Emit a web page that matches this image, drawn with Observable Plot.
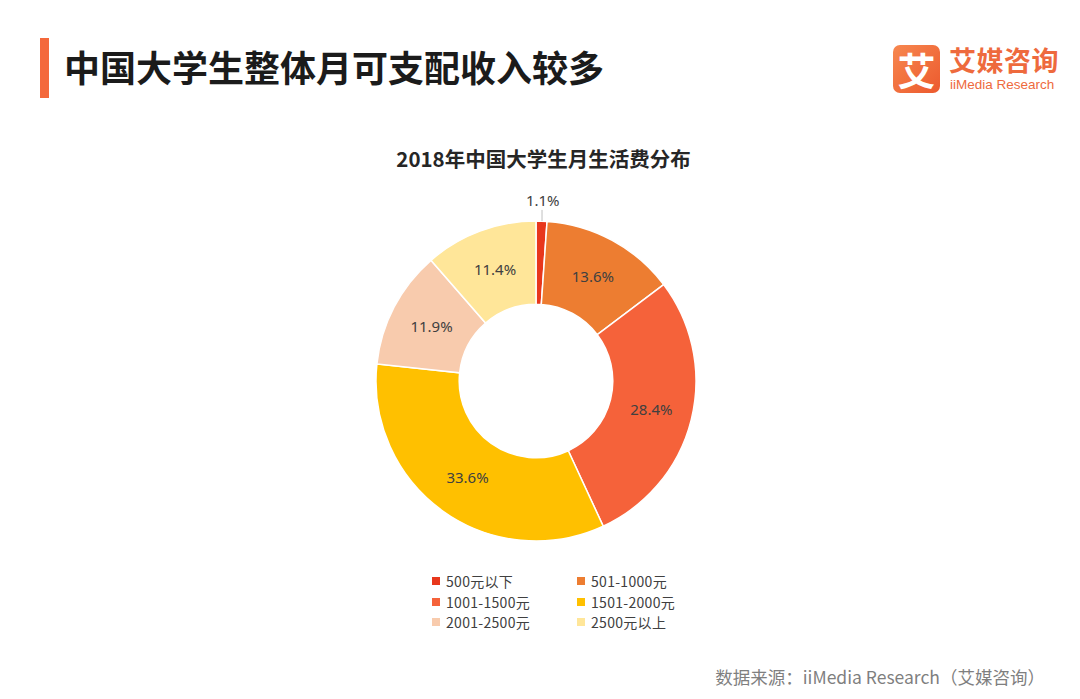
<!DOCTYPE html>
<html>
<head>
<meta charset="utf-8">
<script src="https://cdn.jsdelivr.net/npm/d3@7"></script>
<script src="https://cdn.jsdelivr.net/npm/@observablehq/plot@0.6"></script>
<style>
  html, body { margin: 0; padding: 0; }
  body { width: 1080px; height: 699px; background: #fff; position: relative; overflow: hidden;
         font-family: "Noto Sans CJK SC", "Noto Sans", sans-serif; }
  #bar { position: absolute; left: 40px; top: 38px; width: 9px; height: 60px; background: #f4683b; }
  #title { position: absolute; left: 64px; top: 43px; font-size: 36px; line-height: 46px; font-weight: 700; color: #1b1b1b; white-space: nowrap; }
  #logo-box { position: absolute; left: 893px; top: 45px; width: 47px; height: 48px; border-radius: 7px;
              background: linear-gradient(135deg, #f7874f, #ec5a2e); color: #fff; font-size: 38px; font-weight: 700;
              line-height: 48px; text-align: center; }
  #logo-cn { position: absolute; left: 949px; top: 43px; font-size: 27px; line-height: 34px; font-weight: 700; color: #ee6a3d; letter-spacing: 0.5px; white-space: nowrap; }
  #logo-en { position: absolute; left: 950px; top: 76px; font-family: "Liberation Sans", Arial, sans-serif; font-size: 13.5px; line-height: 17px; color: #ee6a3d; white-space: nowrap; }
  #subtitle { position: absolute; left: 0; width: 1087px; text-align: center; top: 145px; font-size: 20.5px; line-height: 26px; font-weight: 700; color: #262626; }
  #chart { position: absolute; left: 0; top: 180px; width: 1080px; height: 400px; }
  #legend { position: absolute; left: 432px; top: 571px; display: grid; grid-template-columns: 145px 140px; row-gap: 0px; }
  .item { display: flex; align-items: center; font-size: 14px; line-height: 20.5px; height: 20.5px; color: #404040; white-space: nowrap; letter-spacing: 0.3px; }
  .sw { width: 8px; height: 8px; margin-right: 6px; flex: none; }
  #source { position: absolute; right: 35px; top: 664px; font-size: 17.5px; line-height: 26px; color: #7f7f7f; white-space: nowrap; }
</style>
</head>
<body>
<div id="bar"></div>
<div id="title">中国大学生整体月可支配收入较多</div>
<div id="logo-box">艾</div>
<div id="logo-cn">艾媒咨询</div>
<div id="logo-en">iiMedia Research</div>
<div id="subtitle">2018年中国大学生月生活费分布</div>
<div id="chart"></div>
<div id="legend"></div>
<div id="source">数据来源：iiMedia Research（艾媒咨询）</div>
<script>
// ---- data ----
const categories = ["500元以下", "501-1000元", "1001-1500元", "1501-2000元", "2001-2500元", "2500元以上"];
const shares = [1.1, 13.6, 28.4, 33.6, 11.9, 11.4];
const colors = ["#e8371c", "#ed7d31", "#f5623a", "#ffc000", "#f8cbad", "#ffe699"];

const data = categories.map((c, i) => ({category: c, share: shares[i]}));

// pie geometry (angles from 12 o'clock, clockwise)
const pie = d3.pie().sort(null).value(d => d.share).startAngle(0).endAngle(2 * Math.PI)(data);
const innerFrac = 0.48;
const labels = pie.map(p => {
  const a = (p.startAngle + p.endAngle) / 2;
  const outside = p.data.share < 3;
  const r = outside ? 1.13 : (1 + innerFrac) / 2;
  return {label: p.data.share.toFixed(1) + "%", x: r * Math.sin(a), y: r * Math.cos(a), outside,
          lx: Math.sin(a), ly1: Math.cos(a), ly2: 1.07 * Math.cos(a)};
});

const chart = Plot.plot({
  width: 1080,
  height: 400,
  marginLeft: 376,
  marginRight: 384,
  marginTop: 41,
  marginBottom: 39,
  x: {domain: [-1, 1], axis: null},
  y: {domain: [-1, 1], axis: null},
  color: {domain: categories, range: colors},
  style: {background: "transparent", overflow: "visible"},
  marks: [
    Plot.dot(pie, {
      x: () => 0, y: () => 0, fill: d => d.data.category,
      render: (index, scales, values, dimensions, context) => {
        const cx = scales.x(0), cy = scales.y(0);
        const R = Math.abs(scales.x(1) - scales.x(0));
        const arc = d3.arc().innerRadius(R * innerFrac).outerRadius(R);
        const g = d3.create("svg:g");
        g.selectAll("path").data(index).join("path")
          .attr("transform", `translate(${cx},${cy})`)
          .attr("d", i => arc(pie[i]))
          .attr("fill", i => values.fill[i])
          .attr("stroke", "#fff")
          .attr("stroke-width", 1.5);
        return g.node();
      }
    }),
    Plot.ruleX(labels.filter(d => d.outside), {x: "lx", y1: "ly1", y2: "ly2", stroke: "#bfbfbf", strokeWidth: 1}),
    Plot.text(labels, {x: "x", y: "y", text: "label", fontSize: 15, fill: "#404040",
                       fontFamily: "Noto Sans, sans-serif"})
  ]
});
document.getElementById("chart").appendChild(chart);

// legend
const legend = document.getElementById("legend");
categories.forEach((c, i) => {
  const item = document.createElement("div");
  item.className = "item";
  const sw = document.createElement("span");
  sw.className = "sw";
  sw.style.background = colors[i];
  const t = document.createElement("span");
  t.textContent = c;
  item.appendChild(sw); item.appendChild(t);
  legend.appendChild(item);
});
</script>
</body>
</html>
